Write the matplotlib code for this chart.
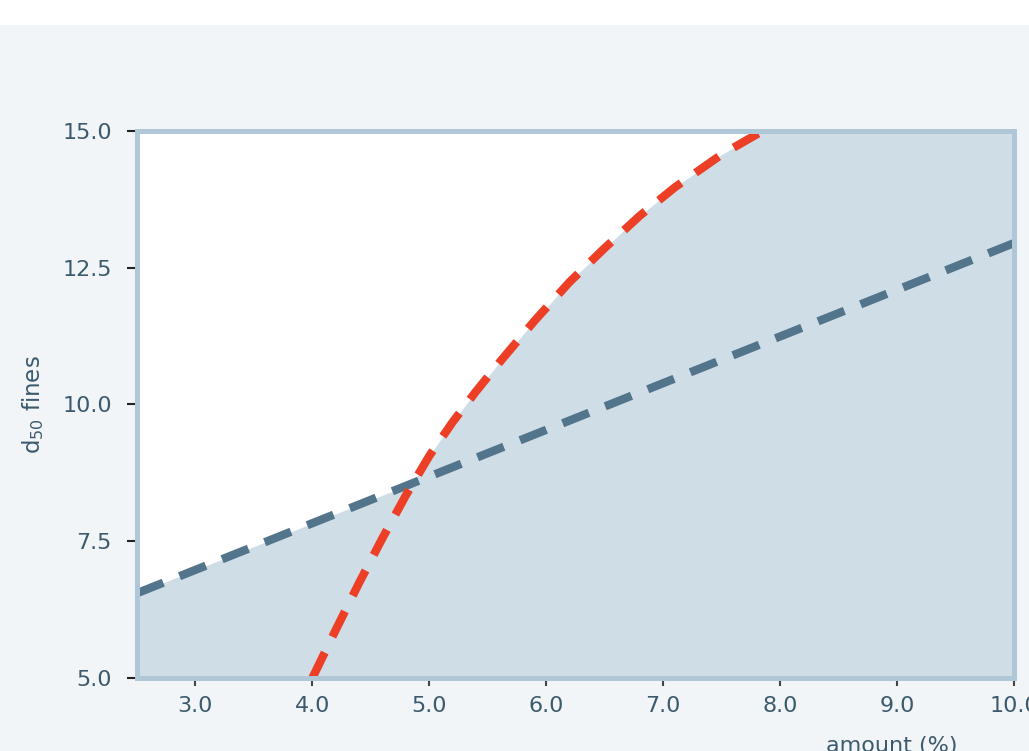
import matplotlib
matplotlib.use("Agg")
import matplotlib.pyplot as plt
from matplotlib.patches import Rectangle

plt.rcParams["font.family"] = ["DejaVu Sans"]
plt.rcParams["mathtext.fontset"] = "dejavusans"

# data
blue_x = [2.5, 10.0]
blue_y = [6.55, 12.95]

red_x = [4.0, 4.2, 4.4, 4.6, 4.8, 5.0, 5.2, 5.4, 5.6, 5.9, 6.2, 6.5, 6.8, 7.1, 7.5, 7.85, 8.2]
red_y = [5.0, 5.88, 6.74, 7.56, 8.34, 9.06, 9.68, 10.24, 10.77, 11.53, 12.24, 12.86, 13.45,
         13.97, 14.57, 15.0, 15.4]

xticks = [3, 4, 5, 6, 7, 8, 9, 10]
yticks = [5.0, 7.5, 10.0, 12.5, 15.0]

BG = "#f1f5f8"
FILL = "#cfdde7"
SPINE = "#afc7d7"
RED = "#ec3f26"
BLUE = "#52758b"
TXT = "#3b5a6d"

fig = plt.figure(figsize=(10.29, 7.51), dpi=100, facecolor=BG)
fig.patches.append(Rectangle((0, 0.967), 1, 0.033, transform=fig.transFigure,
                             facecolor="white", edgecolor="none", zorder=0))
ax = fig.add_axes([0.1331, 0.0972, 0.8523, 0.7284])
ax.set_facecolor("white")

# shaded region: under the blue line and to the right of the red curve
ax.fill_between(blue_x, blue_y, 5.0, color=FILL, lw=0, zorder=1)
ax.fill_betweenx(red_y, red_x, 10.0, color=FILL, lw=0, zorder=1)

ax.plot(blue_x, blue_y, color=BLUE, lw=6, linestyle=(0, (3.4, 2.1)), zorder=3,
        dash_capstyle="butt")
ax.plot(red_x, red_y, color=RED, lw=6, linestyle=(0, (3.4, 2.1)), zorder=4,
        dash_capstyle="butt")

ax.set_xlim(2.5, 10.0)
ax.set_ylim(5.0, 15.0)
ax.set_xticks(xticks)
ax.set_xticklabels([f"{v:.1f}" for v in xticks])
ax.set_yticks(yticks)
ax.set_yticklabels([f"{v:.1f}" for v in yticks])

for s in ax.spines.values():
    s.set_color(SPINE)
    s.set_linewidth(3.6)
    s.set_zorder(5)

ax.tick_params(axis="x", length=6, width=1.5, color="#444444", pad=7,
               labelsize=16, labelcolor=TXT)
ax.tick_params(axis="y", length=7, width=1.5, color="#222222", pad=11,
               labelsize=16, labelcolor=TXT)

ax.set_ylabel(r"d$_{\mathrm{50}}$ fines", fontsize=16.5, color=TXT, va="center")
ax.yaxis.set_label_coords(-0.118, 0.5)
ax.set_xlabel("amount (%)", fontsize=16, color=TXT, va="center")
ax.xaxis.set_label_coords(0.861, -0.125)

fig.savefig("out.png", dpi=100, facecolor=BG)
